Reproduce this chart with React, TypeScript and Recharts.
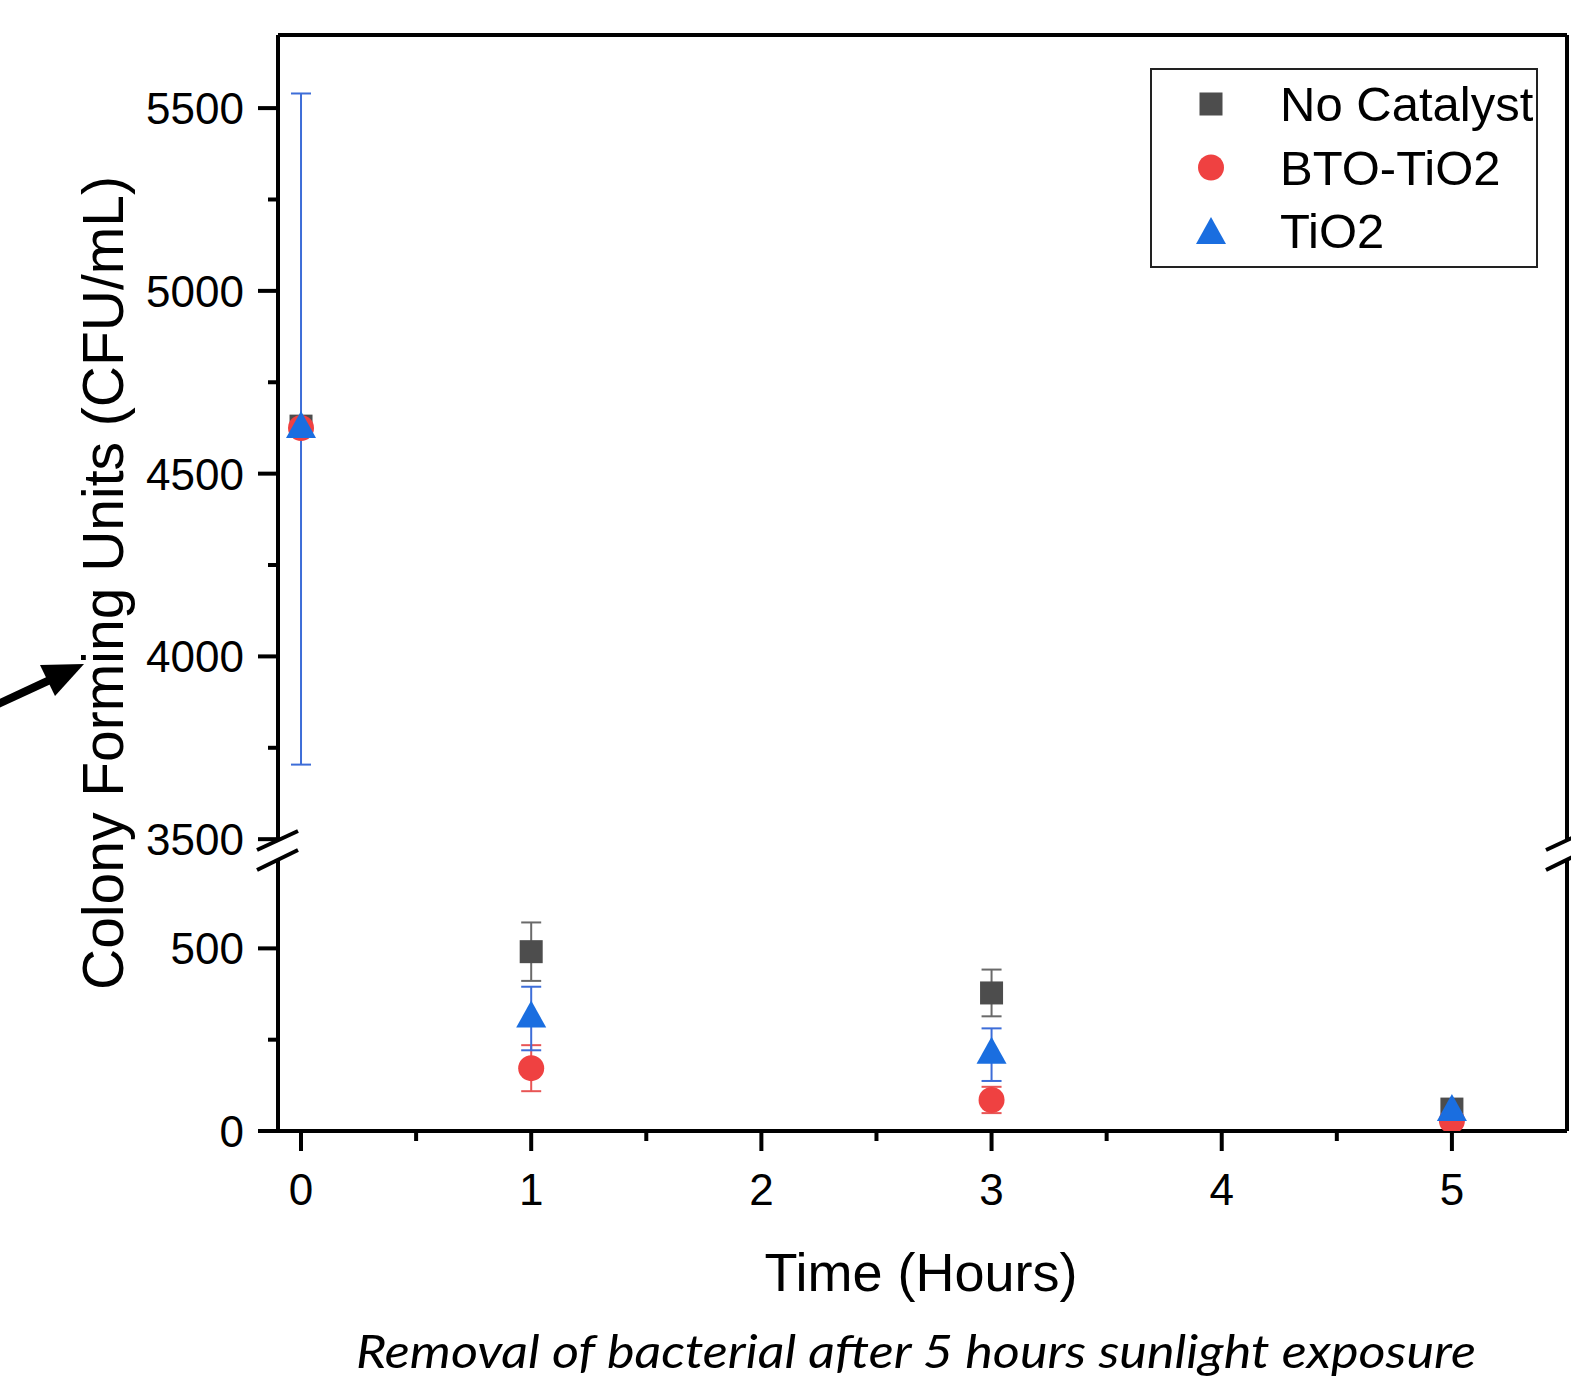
import React from 'react';
import { ScatterChart, Scatter, XAxis, YAxis, ErrorBar, ReferenceLine, Legend } from 'recharts';

// ---------- data ----------
const times = [0, 1, 3, 5];
const noCatalyst = [4630, 491, 378, 60];
const noCatalystErr = [0, 80, 64, 12];
const btoTiO2 = [4625, 172, 85, 28];
const btoTiO2Err = [0, 63, 36, 30];
const tiO2 = [4622, 308, 209, 52];
const tiO2Err = [918, 87, 72, 10];

const xTicks = [0, 0.5, 1, 1.5, 2, 2.5, 3, 3.5, 4, 4.5, 5];
const upperYTicks = [3500, 3750, 4000, 4250, 4500, 4750, 5000, 5250, 5500];
const lowerYTicks = [0, 250, 500];
const xDomain = [-0.1, 5.5];
const upperDomain = [3495, 5700];
const lowerDomain = [0, 742];
const breakValue = 2000;

const FONT = "'Liberation Sans', Arial, Helvetica, sans-serif";

type Pt = { x: number; y: number; err: number };
const makeData = (vals: number[], errs: number[]): Pt[] =>
  times.map((x, i) => ({ x, y: vals[i], err: errs[i] }));

const Square = (p: any) => (
  <rect x={p.cx - 11.5} y={p.cy - 11.5} width={23} height={23} fill="#4d4d4d" />
);
const Dot = (p: any) => <circle cx={p.cx} cy={p.cy} r={13} fill="#ef4141" />;
const Tri = (p: any) => (
  <polygon
    points={`${p.cx},${p.cy - 18} ${p.cx + 15},${p.cy + 9} ${p.cx - 15},${p.cy + 9}`}
    fill="#1a6ee0"
  />
);

const series = [
  { name: 'No Catalyst', data: makeData(noCatalyst, noCatalystErr), shape: Square, err: '#6a6a6a' },
  { name: 'BTO-TiO2', data: makeData(btoTiO2, btoTiO2Err), shape: Dot, err: '#e85555' },
  { name: 'TiO2', data: makeData(tiO2, tiO2Err), shape: Tri, err: '#3d6dd8' },
];

const YTick = (props: any) => {
  const { x, y, payload } = props;
  const v = payload.value;
  const major = v % 500 === 0;
  return (
    <g>
      <line x1={x} x2={x - (major ? 20 : 10)} y1={y} y2={y} stroke="#000" strokeWidth={4} />
      {major && (
        <text x={x - 34} y={y} dy={16} textAnchor="end" fontSize={44} fontFamily={FONT} fill="#000">
          {v}
        </text>
      )}
    </g>
  );
};

const XTick = (props: any) => {
  const { x, y, payload } = props;
  const v = payload.value;
  const major = Number.isInteger(v);
  return (
    <g>
      <line x1={x} x2={x} y1={y} y2={y + (major ? 20 : 10)} stroke="#000" strokeWidth={4} />
      {major && (
        <text x={x} y={y + 74} textAnchor="middle" fontSize={44} fontFamily={FONT} fill="#000">
          {v}
        </text>
      )}
    </g>
  );
};

const LegendBox = () => (
  <svg width={388} height={200} style={{ display: 'block' }}>
    <rect x={1} y={1} width={386} height={198} fill="#fff" stroke="#222" strokeWidth={2} />
    {series.map((s, i) => {
      const cy = 36 + i * 63.5;
      const Shape = s.shape;
      return (
        <g key={s.name}>
          <Shape cx={61} cy={i === 2 ? cy + 4 : cy} />
          <text x={130} y={cy + 17} fontSize={49} fontFamily={FONT} fill="#000">
            {s.name}
          </text>
        </g>
      );
    })}
  </svg>
);

const W = 1571;
const H = 1381;

export default function App() {
  return (
    <div style={{ position: 'absolute', left: 0, top: 0, width: W, height: H, background: '#fff' }}>
      {/* lower panel */}
      <div style={{ position: 'absolute', left: 0, top: 0 }}>
        <ScatterChart width={W} height={H} margin={{ top: 860, right: 4, bottom: 150, left: 0 }}>
          <XAxis
            type="number"
            dataKey="x"
            domain={xDomain}
            allowDataOverflow
            ticks={xTicks}
            interval={0}
            height={100}
            tickLine={false}
            tickSize={0}
            tickMargin={0}
            tick={<XTick />}
            axisLine={{ stroke: '#000', strokeWidth: 4 }}
          />
          <YAxis
            type="number"
            dataKey="y"
            domain={lowerDomain}
            allowDataOverflow
            ticks={lowerYTicks}
            interval={0}
            width={278}
            tickLine={false}
            tickSize={0}
            tickMargin={0}
            tick={<YTick />}
            axisLine={{ stroke: '#000', strokeWidth: 4 }}
          />
          <ReferenceLine x={5.5} stroke="#000" strokeWidth={4} ifOverflow="visible" />
          {series.map((s) => (
            <Scatter
              key={s.name}
              name={s.name}
              data={s.data.filter((d) => d.y <= breakValue)}
              shape={s.shape}
              isAnimationActive={false}
            >
              <ErrorBar dataKey="err" direction="y" width={10} stroke={s.err} strokeWidth={2} />
            </Scatter>
          ))}
        </ScatterChart>
      </div>
      {/* upper panel */}
      <div style={{ position: 'absolute', left: 0, top: 0 }}>
        <ScatterChart width={W} height={H} margin={{ top: 35, right: 4, bottom: H - 841, left: 0 }}>
          <XAxis type="number" dataKey="x" domain={xDomain} allowDataOverflow ticks={xTicks} hide />
          <YAxis
            type="number"
            dataKey="y"
            domain={upperDomain}
            allowDataOverflow
            ticks={upperYTicks}
            interval={0}
            width={278}
            tickLine={false}
            tickSize={0}
            tickMargin={0}
            tick={<YTick />}
            axisLine={{ stroke: '#000', strokeWidth: 4 }}
          />
          <ReferenceLine x={5.5} stroke="#000" strokeWidth={4} ifOverflow="visible" />
          <ReferenceLine y={5700} stroke="#000" strokeWidth={4} ifOverflow="visible" />
          <Legend
            layout="vertical"
            align="center"
            verticalAlign="middle"
            content={<LegendBox />}
            wrapperStyle={{ left: 1150, top: 68, width: 388, height: 200 }}
          />
          {series.map((s) => (
            <Scatter
              key={s.name}
              name={s.name}
              data={s.data.filter((d) => d.y > breakValue)}
              shape={s.shape}
              isAnimationActive={false}
            >
              <ErrorBar dataKey="err" direction="y" width={10} stroke={s.err} strokeWidth={2} />
            </Scatter>
          ))}
        </ScatterChart>
      </div>
      {/* annotations */}
      <svg
        width={W}
        height={H}
        style={{ position: 'absolute', left: 0, top: 0, pointerEvents: 'none' }}
      >
        <rect x={268} y={842} width={20} height={17} fill="#fff" />
        <line x1={257} y1={850} x2={298} y2={831} stroke="#000" strokeWidth={4} />
        <line x1={257} y1={870} x2={298} y2={850} stroke="#000" strokeWidth={4} />
        <rect x={1555} y={842} width={20} height={17} fill="#fff" />
        <line x1={1546} y1={850} x2={1587} y2={831} stroke="#000" strokeWidth={4} />
        <line x1={1546} y1={870} x2={1587} y2={850} stroke="#000" strokeWidth={4} />
        <text
          x={123}
          y={583}
          transform="rotate(-90 123 583)"
          textAnchor="middle"
          fontSize={57}
          fontFamily={FONT}
          fill="#000"
        >
          Colony Forming Units (CFU/mL)
        </text>
        <text x={921} y={1291} textAnchor="middle" fontSize={54} fontFamily={FONT} fill="#000">
          Time (Hours)
        </text>
        <text
          x={916}
          y={1368}
          textAnchor="middle"
          fontSize={46}
          fontStyle="italic"
          fontFamily="Lato, 'Open Sans', sans-serif"
          textLength={1120}
          lengthAdjust="spacingAndGlyphs"
          fill="#000"
        >
          Removal of bacterial after 5 hours sunlight exposure
        </text>
        <line x1={-6} y1={706} x2={52} y2={679} stroke="#000" strokeWidth={8} />
        <polygon points="84,664 40,665 55,696" fill="#000" />
      </svg>
    </div>
  );
}
